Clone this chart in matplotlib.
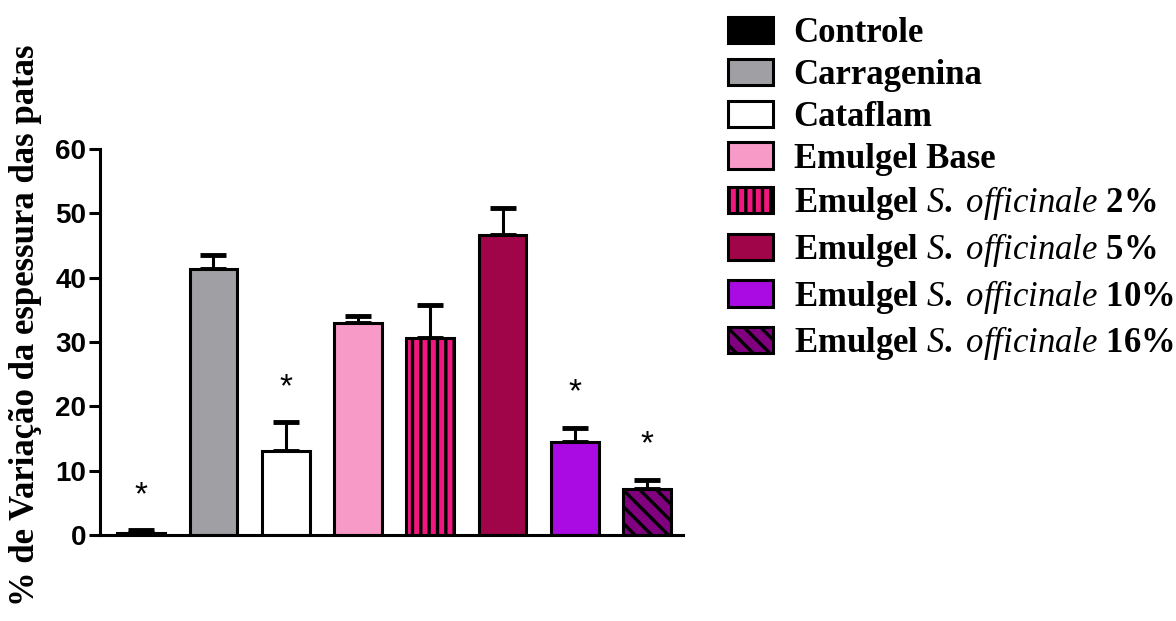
import matplotlib.pyplot as plt
import numpy as np

plt.rcParams['mathtext.fontset'] = 'custom'
plt.rcParams['mathtext.rm'] = 'Liberation Serif:bold'
plt.rcParams['mathtext.it'] = 'Liberation Serif:italic'
plt.rcParams['hatch.linewidth'] = 2.4

# % variation of paw thickness per group
grupos = ['Controle', 'Carragenina', 'Cataflam', 'Emulgel Base',
          r'Emulgel $\it{S.\ officinale}$ 2%', r'Emulgel $\it{S.\ officinale}$ 5%',
          r'Emulgel $\it{S.\ officinale}$ 10%', r'Emulgel $\it{S.\ officinale}$ 16%']
media = [0.3, 41.3, 13.0, 32.9, 30.6, 46.7, 14.4, 7.2]
erro = [0.4, 2.2, 4.5, 1.2, 5.2, 4.2, 2.3, 1.4]
signif = [True, False, True, False, False, False, True, True]

cores = ['#000000', '#A0A0A4', '#FFFFFF', '#F79AC8',
         '#F2177F', '#A0054A', '#AA0BE2', '#800080']
hachuras = [None, None, None, None, '||', None, None, '\\\\']

fig = plt.figure(figsize=(11.76, 6.21), dpi=100)
ax = fig.add_axes([0.085, 0.1385, 0.496, 0.6215])

x = np.arange(len(media))
for i in range(len(media)):
    ax.bar(x[i], media[i], width=0.66, color=cores[i], edgecolor='black',
           linewidth=2.2, hatch=hachuras[i], label=grupos[i], zorder=2)
    ax.errorbar(x[i], media[i], yerr=[[0], [erro[i]]], fmt='none', ecolor='black',
                elinewidth=2.2, capsize=9.5, capthick=3.5, zorder=1)
    if signif[i]:
        ax.text(x[i], media[i] + erro[i] + 5.4, '*', ha='center', va='center',
                fontsize=24, family='Liberation Sans')

ax.set_xlim(-0.57, 7.5)
ax.set_ylim(0, 60)
ax.set_yticks(np.arange(0, 61, 10))
ax.set_xticks([])
for s in ['top', 'right']:
    ax.spines[s].set_visible(False)
for s in ['left', 'bottom']:
    ax.spines[s].set_linewidth(2.2)
ax.tick_params(axis='y', length=8, width=2.2, direction='out', labelsize=20, pad=2)
for lb in ax.get_yticklabels():
    lb.set_fontweight('bold')
    lb.set_family('Liberation Sans')

fig.text(0.022, 1 - 45 / 621, '% de Variação da espessura das patas', rotation=90,
         ha='center', va='top', fontsize=25, fontweight='bold', family='Liberation Serif')

leg = fig.legend(loc='upper left', bbox_to_anchor=(0.607, 0.995), frameon=False,
                 prop={'family': 'Liberation Serif', 'weight': 'bold', 'size': 25},
                 handlelength=1.3, handleheight=0.78, handletextpad=0.6,
                 labelspacing=0.25, borderaxespad=0)

fig.savefig('out.png', dpi=100)
